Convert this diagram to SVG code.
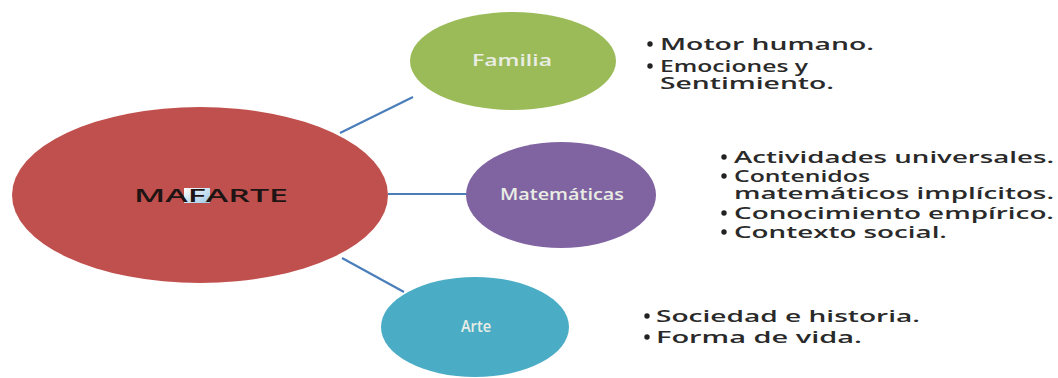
<svg xmlns="http://www.w3.org/2000/svg" width="1058" height="378" viewBox="0 0 1058 378">
  <defs>
    <linearGradient id="chip" x1="0" y1="0" x2="1" y2="1">
      <stop offset="0" stop-color="#FFFFFF"/>
      <stop offset="1" stop-color="#9CC8E6"/>
    </linearGradient>
  </defs>
  <style>
    .link { stroke: #4A7EBB; stroke-width: 2.2; fill: none; }
    .label { font-family: "Open Sans", "Liberation Sans", sans-serif; font-size: 15.5px; font-weight: 600; fill: #E9EDE4; text-anchor: middle; }
    .center-label { font-family: "Open Sans", "Liberation Sans", sans-serif; font-size: 18px; font-weight: 600; fill: #1E1414; }
    .item { font-family: "Open Sans", "Liberation Sans", sans-serif; font-size: 17px; font-weight: 600; fill: #2A2A2A; }
    .dot { fill: #222222; }
  </style>
  <rect width="1058" height="378" fill="#FFFFFF"/>

  <g id="connectors">
    <line class="link" x1="340" y1="133" x2="413" y2="97"/>
    <line class="link" x1="388" y1="194" x2="467" y2="194"/>
    <line class="link" x1="342" y1="258" x2="404" y2="292"/>
  </g>

  <g id="node-mafarte">
    <ellipse cx="200" cy="195" rx="188" ry="88" fill="#C0504D"/>
    <rect x="184" y="188" width="26" height="15" fill="url(#chip)"/>
    <text class="center-label" x="134" y="202" textLength="154" lengthAdjust="spacingAndGlyphs">MAFARTE</text>
  </g>

  <g id="node-familia">
    <ellipse cx="513" cy="61" rx="103" ry="49" fill="#9BBB59"/>
    <text class="label" x="512" y="66" textLength="80" lengthAdjust="spacingAndGlyphs">Familia</text>
  </g>

  <g id="node-matematicas">
    <ellipse cx="561" cy="195" rx="95" ry="53" fill="#8064A2"/>
    <text class="label" x="562" y="200" textLength="124" lengthAdjust="spacingAndGlyphs">Matemáticas</text>
  </g>

  <g id="node-arte">
    <ellipse cx="475" cy="327" rx="94" ry="50" fill="#4BACC6"/>
    <text class="label" x="476" y="332" textLength="30" lengthAdjust="spacingAndGlyphs">Arte</text>
  </g>

  <g id="list-familia">
    <circle class="dot" cx="650" cy="44" r="2.7"/>
    <text class="item" x="660" y="50" textLength="214" lengthAdjust="spacingAndGlyphs">Motor humano.</text>
    <circle class="dot" cx="650" cy="66" r="2.7"/>
    <text class="item" x="660" y="72" textLength="148" lengthAdjust="spacingAndGlyphs">Emociones y</text>
    <text class="item" x="660" y="89" textLength="174" lengthAdjust="spacingAndGlyphs">Sentimiento.</text>
  </g>

  <g id="list-matematicas">
    <circle class="dot" cx="724" cy="157" r="2.7"/>
    <text class="item" x="734" y="163" textLength="320" lengthAdjust="spacingAndGlyphs">Actividades universales.</text>
    <circle class="dot" cx="724" cy="176" r="2.7"/>
    <text class="item" x="734" y="182" textLength="136" lengthAdjust="spacingAndGlyphs">Contenidos</text>
    <text class="item" x="734" y="199" textLength="320" lengthAdjust="spacingAndGlyphs">matemáticos implícitos.</text>
    <circle class="dot" cx="724" cy="213" r="2.7"/>
    <text class="item" x="734" y="219" textLength="320" lengthAdjust="spacingAndGlyphs">Conocimiento empírico.</text>
    <circle class="dot" cx="724" cy="232" r="2.7"/>
    <text class="item" x="734" y="238" textLength="213" lengthAdjust="spacingAndGlyphs">Contexto social.</text>
  </g>

  <g id="list-arte">
    <circle class="dot" cx="647" cy="316" r="2.7"/>
    <text class="item" x="656" y="322" textLength="264" lengthAdjust="spacingAndGlyphs">Sociedad e historia.</text>
    <circle class="dot" cx="647" cy="337" r="2.7"/>
    <text class="item" x="656" y="343" textLength="206" lengthAdjust="spacingAndGlyphs">Forma de vida.</text>
  </g>
</svg>
